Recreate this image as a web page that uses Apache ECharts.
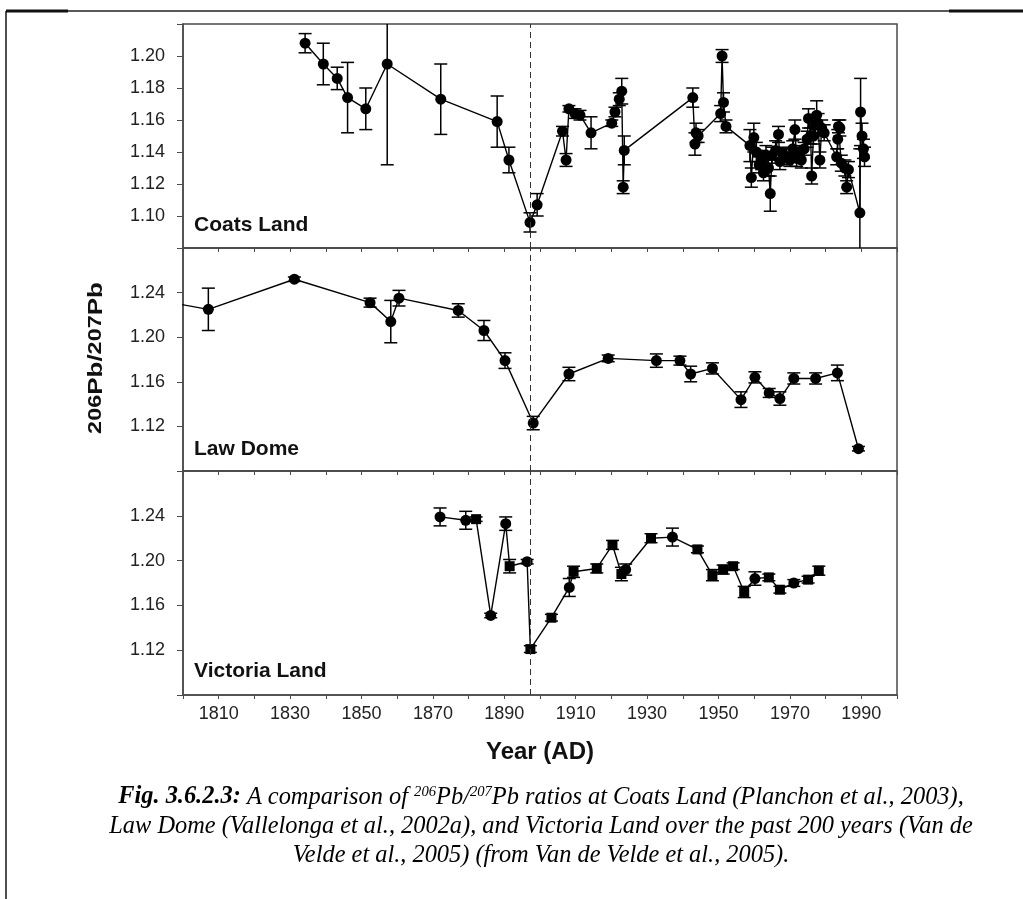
<!DOCTYPE html>
<html>
<head>
<meta charset="utf-8">
<script src="https://cdn.jsdelivr.net/npm/echarts@6/dist/echarts.min.js"></script>
<style>
  html, body { margin: 0; padding: 0; background: #ffffff; }
  #chart { width: 1023px; height: 899px; }
</style>
</head>
<body>
<div id="chart"></div>
<script>
// ---- Coats Land (Planchon et al., 2003) ----
const coatsYear = [
  1834.2, 1839.3, 1843.2, 1846.1, 1851.2, 1857.2, 1872.2, 1888.0, 1891.3, 1897.2,
  1899.2, 1906.3, 1907.3, 1908.1, 1909.8, 1911.2, 1914.3, 1920.1, 1921.0, 1922.2,
  1922.9, 1923.3, 1923.6, 1942.8, 1943.4, 1943.7, 1944.3, 1950.6, 1951.0, 1951.4,
  1952.1, 1958.8, 1959.2, 1959.9, 1960.6, 1961.4, 1962.1, 1962.6, 1963.3, 1964.0,
  1964.5, 1965.0, 1966.0, 1966.8, 1967.2, 1968.0, 1969.0, 1970.0, 1970.8, 1971.4,
  1971.9, 1972.6, 1973.2, 1974.0, 1974.8, 1975.2, 1975.8, 1976.1, 1976.6, 1977.1,
  1977.5, 1977.9, 1978.4, 1978.9, 1979.6, 1983.1, 1983.4, 1983.6, 1984.0, 1984.4,
  1985.4, 1985.9, 1986.4, 1989.6, 1989.8, 1990.2, 1990.6, 1990.9
];
const coatsRatio = [
  1.208, 1.195, 1.186, 1.174, 1.167, 1.195, 1.173, 1.159, 1.135, 1.096,
  1.107, 1.153, 1.135, 1.167, 1.164, 1.163, 1.152, 1.158, 1.165, 1.173,
  1.178, 1.118, 1.141, 1.174, 1.145, 1.152, 1.150, 1.164, 1.200, 1.171,
  1.156, 1.144, 1.124, 1.149, 1.140, 1.132, 1.135, 1.127, 1.138, 1.130,
  1.114, 1.138, 1.141, 1.151, 1.134, 1.139, 1.137, 1.135, 1.142, 1.154,
  1.136, 1.140, 1.135, 1.142, 1.148, 1.161, 1.150, 1.125, 1.150, 1.157,
  1.163, 1.158, 1.135, 1.155, 1.152, 1.137, 1.148, 1.156, 1.155, 1.133,
  1.130, 1.118, 1.129, 1.102, 1.165, 1.150, 1.142, 1.137
];
const coatsErr = [
  0.006, 0.013, 0.007, 0.022, 0.013, 0.063, 0.022, 0.016, 0.008, 0.006,
  0.007, 0.003, 0.004, 0.002, 0.003, 0.003, 0.010, 0.002, 0.003, 0.004,
  0.008, 0.004, 0.009, 0.006, 0.007, 0.006, 0.004, 0.005, 0.004, 0.006,
  0.004, 0.010, 0.006, 0.009, 0.006, 0.005, 0.006, 0.005, 0.006, 0.005,
  0.011, 0.005, 0.006, 0.005, 0.005, 0.004, 0.005, 0.004, 0.005, 0.006,
  0.005, 0.004, 0.005, 0.004, 0.005, 0.006, 0.005, 0.005, 0.005, 0.006,
  0.009, 0.006, 0.005, 0.005, 0.005, 0.005, 0.006, 0.004, 0.005, 0.005,
  0.005, 0.004, 0.005, 0.040, 0.021, 0.008, 0.006, 0.006
];

// ---- Law Dome (Vallelonga et al., 2002a) ----
const lawYear = [
  1793.0, 1807.1, 1831.2, 1852.4, 1858.2, 1860.5, 1877.1, 1884.3, 1890.2, 1898.1,
  1908.1, 1919.1, 1932.6, 1939.2, 1942.2, 1948.3, 1956.3, 1960.2, 1964.2, 1967.2,
  1971.1, 1977.2, 1983.3, 1989.2
];
const lawRatio = [
  1.233, 1.225, 1.252, 1.231, 1.214, 1.235, 1.224, 1.206, 1.179, 1.123,
  1.167, 1.181, 1.179, 1.179, 1.167, 1.172, 1.144, 1.164, 1.150, 1.145,
  1.163, 1.163, 1.168, 1.100
];
const lawErr = [
  0.004, 0.019, 0.002, 0.004, 0.019, 0.007, 0.006, 0.009, 0.007, 0.006,
  0.006, 0.003, 0.006, 0.004, 0.007, 0.005, 0.007, 0.005, 0.004, 0.006,
  0.005, 0.005, 0.007, 0.002
];

// ---- Victoria Land (Van de Velde et al., 2005) ----
const vicYear = [
  1872.0, 1879.2, 1882.1, 1886.2, 1890.4, 1891.5, 1896.4, 1897.3, 1903.2, 1908.2,
  1909.4, 1915.9, 1920.3, 1922.8, 1924.0, 1931.1, 1937.1, 1944.1, 1948.3, 1951.3,
  1954.1, 1957.2, 1960.2, 1964.1, 1967.2, 1971.1, 1975.1, 1978.1
];
const vicRatio = [
  1.239, 1.236, 1.237, 1.151, 1.233, 1.195, 1.199, 1.121, 1.149, 1.176,
  1.190, 1.193, 1.214, 1.188, 1.192, 1.220, 1.221, 1.210, 1.187, 1.192,
  1.195, 1.172, 1.184, 1.185, 1.174, 1.180, 1.183, 1.191
];
const vicErr = [
  0.008, 0.008, 0.002, 0.002, 0.006, 0.006, 0.002, 0.003, 0.003, 0.008,
  0.005, 0.004, 0.004, 0.006, 0.005, 0.004, 0.008, 0.003, 0.005, 0.004,
  0.003, 0.005, 0.006, 0.003, 0.003, 0.003, 0.003, 0.004
];

// ---- axes and labels ----
const yearTickLabels = ['1810', '1830', '1850', '1870', '1890', '1910', '1930', '1950', '1970', '1990'];
const coatsTickLabels = ['1.10', '1.12', '1.14', '1.16', '1.18', '1.20'];
const ratioTickLabels = ['1.12', '1.16', '1.20', '1.24'];
const panelNames = ['Coats Land', 'Law Dome', 'Victoria Land'];
const dividerYear = 1897.2;

// ---- styling ----
const SANS = '"Liberation Sans", Arial, Helvetica, sans-serif';
const SERIF = '"Liberation Serif", "Times New Roman", serif';
const INK = '#000000';
const AXIS = '#4a4a4a';
const CAP_HALF = 6.5;
// marker shape for each Victoria Land sample (circle / square)
const vicMarkerShape = [
  'circle', 'circle', 'rect', 'circle', 'circle', 'rect', 'circle', 'rect', 'rect', 'circle',
  'rect', 'rect', 'rect', 'rect', 'circle', 'rect', 'circle', 'rect', 'rect', 'rect',
  'rect', 'rect', 'circle', 'rect', 'rect', 'circle', 'rect', 'rect'
];

const panels = [
  { top: 24, height: 224, min: 1.08, max: 1.22, interval: 0.02, ticks: coatsTickLabels,
    year: coatsYear, ratio: coatsRatio, err: coatsErr },
  { top: 248, height: 223, min: 1.08, max: 1.28, interval: 0.04, ticks: ratioTickLabels,
    year: lawYear, ratio: lawRatio, err: lawErr },
  { top: 471, height: 224, min: 1.08, max: 1.28, interval: 0.04, ticks: ratioTickLabels,
    year: vicYear, ratio: vicRatio, err: vicErr }
];

function errorBarItem(params, api) {
  const cs = params.coordSys;
  const hi = api.coord([api.value(0), api.value(2)]);
  const lo = api.coord([api.value(0), api.value(1)]);
  const x = hi[0];
  if (x < cs.x - 1 || x > cs.x + cs.width + 1) return null;
  const top = cs.y, bottom = cs.y + cs.height;
  const yHi = hi[1], yLo = lo[1];
  const y1 = Math.max(top, Math.min(bottom, yHi));
  const y2 = Math.max(top, Math.min(bottom, yLo));
  const st = { stroke: INK, lineWidth: 1.5 };
  const children = [{ type: 'line', shape: { x1: x, y1: y1, x2: x, y2: y2 }, style: st }];
  if (yHi >= top) children.push({ type: 'line', shape: { x1: x - CAP_HALF, y1: yHi, x2: x + CAP_HALF, y2: yHi }, style: st });
  if (yLo <= bottom) children.push({ type: 'line', shape: { x1: x - CAP_HALF, y1: yLo, x2: x + CAP_HALF, y2: yLo }, style: st });
  return { type: 'group', children: children };
}

const grid = [], xAxis = [], yAxis = [], series = [];
panels.forEach(function (p, i) {
  grid.push({ left: 183, width: 714, top: p.top, height: p.height, containLabel: false,
    outerBoundsMode: 'none', show: true, borderColor: AXIS, borderWidth: 1.5, backgroundColor: 'transparent' });
  xAxis.push({
    type: 'value', gridIndex: i, min: 1800, max: 2000, interval: 10,
    axisLine: { show: true, onZero: false, lineStyle: { color: AXIS, width: 1.5 } },
    axisTick: { show: true, inside: false, length: 4, lineStyle: { color: AXIS, width: 1 } },
    axisLabel: {
      show: i === 2, margin: 10, color: '#222', fontFamily: SANS, fontSize: 18,
      formatter: function (v) { const s = String(Math.round(v)); return yearTickLabels.indexOf(s) >= 0 ? s : ''; }
    },
    splitLine: { show: false }
  });
  yAxis.push({
    type: 'value', gridIndex: i, min: p.min, max: p.max, interval: p.interval,
    axisLine: { show: true, lineStyle: { color: AXIS, width: 1.5 } },
    axisTick: { show: true, inside: false, length: 6, lineStyle: { color: AXIS, width: 1 } },
    axisLabel: {
      margin: 18, color: '#222', fontFamily: SANS, fontSize: 18,
      formatter: function (v) { const s = v.toFixed(2); return p.ticks.indexOf(s) >= 0 ? s : ''; }
    },
    splitLine: { show: false }
  });
  const bars = p.year.map(function (y, k) { return [y, p.ratio[k] - p.err[k], p.ratio[k] + p.err[k]]; });
  series.push({
    type: 'custom', xAxisIndex: i, yAxisIndex: i, renderItem: errorBarItem,
    data: bars, z: 2, silent: true, animation: false
  });
  series.push({
    type: 'line', xAxisIndex: i, yAxisIndex: i, z: 3, silent: true, animation: false,
    data: p.year.map(function (y, k) { return [y, p.ratio[k]]; }),
    clip: true, showSymbol: true, showAllSymbol: true,
    symbol: i === 2 ? function (val, prm) { return vicMarkerShape[prm.dataIndex]; } : 'circle',
    symbolSize: i === 2 ? function (val, prm) { return vicMarkerShape[prm.dataIndex] === 'rect' ? 10 : 11; } : 11,
    itemStyle: { color: INK, borderWidth: 0 },
    lineStyle: { color: INK, width: 1.4 },
    markLine: {
      silent: true, symbol: ['none', 'none'], label: { show: false }, animation: false,
      lineStyle: { color: '#333', width: 1, type: [6, 4] },
      data: [{ xAxis: dividerYear }]
    }
  });
});

const graphic = [
  // page frame
  { type: 'line', shape: { x1: 6, y1: 11, x2: 1023, y2: 11 }, style: { stroke: '#222', lineWidth: 1.6 } },
  { type: 'line', shape: { x1: 6, y1: 11, x2: 6, y2: 899 }, style: { stroke: '#222', lineWidth: 1.6 } },
  { type: 'line', shape: { x1: 6, y1: 11, x2: 68, y2: 11 }, style: { stroke: '#111', lineWidth: 3 } },
  { type: 'line', shape: { x1: 949, y1: 11, x2: 1023, y2: 11 }, style: { stroke: '#111', lineWidth: 3 } },
  // y-axis title
  {
    type: 'text', x: 96, y: 358, rotation: Math.PI / 2, scaleX: 1.3,
    style: {
      text: '{d|206}{p|Pb/}{d|207}{p|Pb}',
      align: 'center', verticalAlign: 'middle', textAlign: 'center', textVerticalAlign: 'middle',
      fill: '#111',
      rich: {
        d: { fontFamily: SANS, fontWeight: 'bold', fontSize: 18, fill: '#111', color: '#111' },
        p: { fontFamily: SANS, fontWeight: 'bold', fontSize: 20, fill: '#111', color: '#111' }
      }
    }
  },
  // x-axis title
  {
    type: 'text', x: 540, y: 752,
    style: { text: 'Year (AD)', font: 'bold 24px ' + SANS, fill: '#111',
      align: 'center', verticalAlign: 'middle', textAlign: 'center', textVerticalAlign: 'middle' }
  }
];

// panel names
const nameY = [225, 449, 671];
panelNames.forEach(function (name, i) {
  graphic.push({
    type: 'text', x: 194, y: nameY[i],
    style: { text: name, font: 'bold 21px ' + SANS, fill: '#111',
      align: 'left', verticalAlign: 'middle', textAlign: 'left', textVerticalAlign: 'middle' }
  });
});

// figure caption
const captionLines = [
  '{b|Fig. 3.6.2.3:}{n| A comparison of }{s|206}{n|Pb/}{s|207}{n|Pb ratios at Coats Land (Planchon et al., 2003),}',
  '{n|Law Dome (Vallelonga et al., 2002a), and Victoria Land over the past 200 years (Van de}',
  '{n|Velde et al., 2005) (from Van de Velde et al., 2005).}'
];
const captionY = [797, 826, 855];
captionLines.forEach(function (t, i) {
  graphic.push({
    type: 'text', x: 541, y: captionY[i], scaleX: 0.975,
    style: {
      text: t, align: 'center', verticalAlign: 'middle', textAlign: 'center', textVerticalAlign: 'middle',
      fill: '#000',
      rich: {
        b: { fontFamily: SERIF, fontStyle: 'italic', fontWeight: 'bold', fontSize: 25, fill: '#000', color: '#000' },
        n: { fontFamily: SERIF, fontStyle: 'italic', fontSize: 25, fill: '#000', color: '#000' },
        s: { fontFamily: SERIF, fontStyle: 'italic', fontSize: 15, fill: '#000', color: '#000', verticalAlign: 'top' }
      }
    }
  });
});

const chart = echarts.init(document.getElementById('chart'), null, { renderer: 'canvas' });
chart.setOption({
  backgroundColor: '#ffffff',
  animation: false,
  grid: grid,
  xAxis: xAxis,
  yAxis: yAxis,
  series: series,
  graphic: graphic
});
</script>
</body>
</html>
